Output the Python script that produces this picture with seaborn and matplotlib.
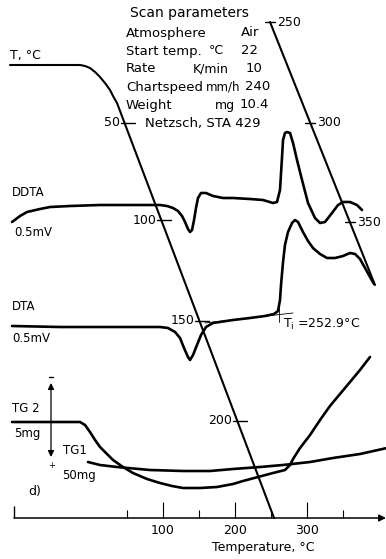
"""
Thermal analysis record (T, DDTA, DTA, TG) redrawn with seaborn.
Chart x is in degC of the bottom temperature axis, chart y is the height
on the recorder paper counted from the top.
"""

import matplotlib
matplotlib.use("Agg")
import matplotlib.pyplot as plt
import numpy as np
import seaborn as sns

# ---- data -------------------------------------------------------------
# programmed temperature trace, first sweep (22 -> ~250 degC)
t1_x = [-112.5, -15.3, -8.3, -1.4, 5.6, 12.5, 19.4, 26.4, 30.6, 36.1, 254.2]
t1_y = [65, 65, 66, 68, 72, 77, 83, 90, 96, 103, 518]
# second sweep (250 -> 350 degC)
t2_x = [248.6, 394.4]
t2_y = [22, 285]
# temperature marks on the trace and their heights
t1_marks = [50, 100, 150, 200]
t1_mark_y = [123, 220, 321, 421]
t2_marks = [250, 300, 350]
t2_mark_y = [22, 123, 222]

ddta_x = [-109.7, -98.6, -88.9, -70.8, -56.9, -29.2, 12.5, 68.1, 95.8, 105.6,
          113.9, 120.8, 126.4, 130.6, 134.7, 137.5, 140.3, 143.1, 145.8, 148.6,
          152.8, 159.7, 169.4, 183.3, 197.2, 220.8, 238.9, 252.8, 258.3, 262.5,
          265.3, 266.7, 269.4, 272.2, 276.4, 280.6, 286.1, 293.1, 301.4, 311.1,
          318.1, 325.0, 334.7, 343.1, 350.0, 359.7, 369.4, 376.4]
ddta_y = [222, 216, 212, 209, 207, 206, 205, 205, 205, 206,
          208, 211, 216, 222, 229, 232, 230, 220, 208, 198,
          193, 193, 196, 198, 198, 199, 200, 203, 202, 190,
          157, 140, 133, 132, 133, 143, 160, 180, 203, 218,
          223, 222, 213, 205, 202, 202, 205, 210]

dta_x = [-109.7, -43.1, 40.3, 95.8, 106.9, 116.7, 123.6, 129.2, 134.7, 137.5,
         141.7, 147.2, 152.8, 159.7, 169.4, 197.2, 220.8, 241.7, 254.2, 259.7,
         262.5, 263.9, 266.7, 269.4, 273.6, 279.2, 283.3, 287.5, 294.4, 301.4,
         308.3, 318.1, 327.8, 338.9, 350.0, 359.7, 366.7, 373.6, 380.6, 387.5,
         393.1]
dta_y = [326, 327, 327, 327, 328, 332, 338, 348, 357, 360,
         355, 345, 335, 327, 323, 320, 318, 316, 314, 311,
         300, 285, 262, 245, 232, 223, 220, 222, 232, 241,
         248, 254, 258, 258, 256, 253, 254, 259, 268, 277,
         284]
# extrapolated baseline and onset mark
onset_base_x = [158.3, 280.6]
onset_base_y = [323, 313]
onset_temp = 261.1
onset_label = "T$_\\mathrm{i}$ =252.9\u00b0C"

tg2_x = [-109.7, -15.3, -8.3, -1.4, 5.6, 12.5, 22.2, 30.6, 44.4, 58.3,
         77.8, 95.8, 112.5, 127.8, 151.4, 175.0, 197.2, 211.1, 231.9, 252.8,
         269.4, 276.4, 280.6, 290.3, 304.2, 318.1, 331.9, 345.8, 359.7, 373.6,
         387.5]
tg2_y = [422, 422, 425, 432, 440, 447, 454, 460, 467, 473,
         479, 483, 486, 488, 488, 487, 484, 481, 477, 473,
         470, 465, 459, 448, 435, 420, 406, 394, 382, 370,
         357]

tg1_x = [-4.2, 12.5, 36.1, 81.9, 127.8, 165.3, 197.2, 234.7, 266.7, 304.2,
         336.1, 373.6, 411.1]
tg1_y = [462, 465, 467, 470, 471, 471, 469, 467, 465, 462,
         458, 454, 448]

temp_major = [100, 200, 300]
temp_minor = [50, 150, 250, 350]

scan_names = ["Atmosphere", "Start temp.", "Rate", "Chartspeed", "Weight"]
scan_units = ["", "\u00b0C", "K/min", "mm/h", "mg"]
scan_values = ["Air", "22", "10", "240", "10.4"]

# ---- drawing ------------------------------------------------------------
sns.set_theme(style="white")
plt.rcParams["font.family"] = ["DejaVu Sans"]
plt.rcParams["text.color"] = "black"

PX = 1 / 0.72            # one paper pixel in degC
X0 = -126.4              # left edge of the paper in degC
fig = plt.figure(figsize=(3.86, 5.59), dpi=100)
ax = fig.add_axes([0, 0, 1, 1])
ax.set_xlim(X0, X0 + 386 * PX)
ax.set_ylim(559, 0)
ax.axis("off")

pen = dict(color="black", sort=False, estimator=None, ax=ax,
           solid_capstyle="round", solid_joinstyle="round")

sns.lineplot(x=t1_x, y=t1_y, linewidth=1.5, **pen)
sns.lineplot(x=t2_x, y=t2_y, linewidth=1.5, **pen)
sns.lineplot(x=ddta_x, y=ddta_y, linewidth=1.9, **pen)
sns.lineplot(x=dta_x, y=dta_y, linewidth=1.9, **pen)
sns.lineplot(x=tg2_x, y=tg2_y, linewidth=1.9, **pen)
sns.lineplot(x=tg1_x, y=tg1_y, linewidth=1.9, **pen)

# onset construction
ax.plot(onset_base_x, onset_base_y, color="black", lw=0.6)
ax.plot([onset_temp, onset_temp], [308, 322], color="black", lw=0.6)
ax.text(onset_temp + 4 * PX, 324, onset_label, fontsize=9, va="center")

# temperature marks along the T trace
seg1_y, seg1_x = t1_y[-2:], t1_x[-2:]
for val, y in zip(t1_marks, t1_mark_y):
    xl = np.interp(y, seg1_y, seg1_x)
    ax.plot([xl - 4 * PX, xl + 10 * PX], [y, y], color="black", lw=1.0)
    ax.text(xl - 5 * PX, y, str(val), fontsize=9, ha="right", va="center")
for val, y in zip(t2_marks, t2_mark_y):
    xl = np.interp(y, t2_y, t2_x)
    ax.plot([xl - 5 * PX, xl + 5 * PX], [y, y], color="black", lw=1.0)
    ax.text(xl + 7 * PX, y, str(val), fontsize=9, ha="left", va="center")

# scan parameter block
unit_left = [0, 209, 193, 206, 215]
unit_size = [9, 9, 9, 8.5, 9]
value_left = [241, 241, 246, 245, 240]
ax.text(X0 + 130 * PX, 13, "Scan parameters", fontsize=10, va="center")
for i, (name, unit, val) in enumerate(zip(scan_names, scan_units, scan_values)):
    y = 33 + i * 18
    ax.text(X0 + 126 * PX, y, name, fontsize=9.5, va="center")
    ax.text(X0 + unit_left[i] * PX, y, unit, fontsize=unit_size[i],
            va="center")
    ax.text(X0 + value_left[i] * PX, y, val, fontsize=9.5, va="center")
ax.text(X0 + 145 * PX, 123, "Netzsch, STA 429", fontsize=9.5, va="center")

# trace labels
ax.text(X0 + 10 * PX, 55, "T, \u00b0C", fontsize=9, va="center")
ax.text(X0 + 12 * PX, 193, "DDTA", fontsize=8.5, va="center")
ax.text(X0 + 14 * PX, 232, "0.5mV", fontsize=8.5, va="center")
ax.text(X0 + 12 * PX, 307, "DTA", fontsize=8.5, va="center")
ax.text(X0 + 12 * PX, 338, "0.5mV", fontsize=8.5, va="center")
ax.text(X0 + 12 * PX, 408, "TG 2", fontsize=8.5, va="center")
ax.text(X0 + 14 * PX, 434, "5mg", fontsize=8.5, va="center")
ax.text(X0 + 63 * PX, 451, "TG1", fontsize=8.5, va="center")
ax.text(X0 + 62 * PX, 475, "50mg", fontsize=8.5, va="center")
ax.text(X0 + 28 * PX, 491, "d)", fontsize=9, va="center")

# TG direction arrow
xa = X0 + 51 * PX
ax.annotate("", xy=(xa, 383), xytext=(xa, 457),
            arrowprops=dict(arrowstyle="<|-|>", color="black", lw=0.9,
                            mutation_scale=9, shrinkA=0, shrinkB=0))
ax.plot([xa - 2 * PX, xa + 2 * PX], [377, 377], color="black", lw=1.0)
ax.text(xa + 1 * PX, 465, "+", fontsize=6, ha="center", va="center")

# bottom temperature axis
x_start = X0 + 14 * PX
ax.annotate("", xy=(X0 + 386 * PX, 518), xytext=(x_start, 518),
            arrowprops=dict(arrowstyle="-|>", color="black", lw=1.1,
                            mutation_scale=10, shrinkA=0, shrinkB=0))
ax.vlines([x_start], 506, 518, color="black", lw=1.0)
ax.vlines(temp_major, 502, 518, color="black", lw=0.8)
ax.vlines(temp_minor, 510, 518, color="black", lw=0.8)
for v in temp_major:
    ax.text(v, 530, str(v), fontsize=9, ha="center", va="center")
ax.text(X0 + 263 * PX, 548, "Temperature, \u00b0C", fontsize=9,
        ha="center", va="center")

fig.savefig("out.png", dpi=100)
plt.close(fig)
